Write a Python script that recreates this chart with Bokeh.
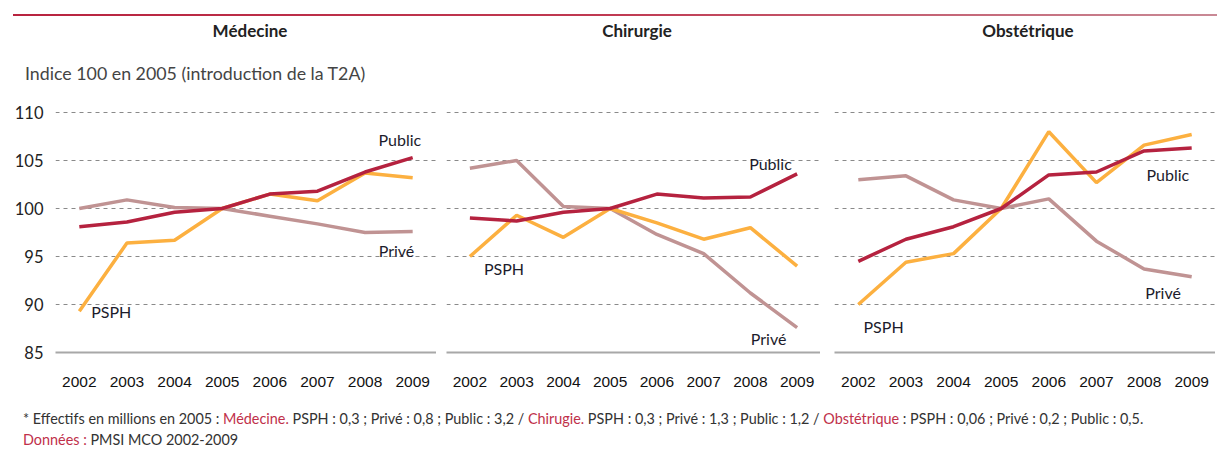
from bokeh.plotting import figure
from bokeh.models import Div, Range1d, FixedTicker
from bokeh.layouts import column, row
from bokeh.embed import file_html
from bokeh.resources import INLINE
from bokeh.core.properties import value

years = [2002, 2003, 2004, 2005, 2006, 2007, 2008, 2009]
tick_years = ["2002", "2003", "2004", "2005", "2006", "2007", "2008", "2009"]
y_ticks = [85, 90, 95, 100, 105, 110]

panels = ["Médecine", "Chirurgie", "Obstétrique"]

med_public = [98.1, 98.6, 99.6, 100.0, 101.5, 101.8, 103.8, 105.3]
med_psph = [89.3, 96.4, 96.7, 100.0, 101.5, 100.8, 103.7, 103.2]
med_prive = [100.0, 100.9, 100.1, 100.0, 99.2, 98.4, 97.5, 97.6]

chi_public = [99.0, 98.7, 99.6, 100.0, 101.5, 101.1, 101.2, 103.6]
chi_psph = [95.0, 99.3, 97.0, 100.0, 98.5, 96.8, 98.0, 94.0]
chi_prive = [104.2, 105.0, 100.2, 100.0, 97.3, 95.3, 91.2, 87.6]

obs_public = [94.5, 96.8, 98.1, 100.0, 103.5, 103.8, 106.0, 106.3]
obs_psph = [90.0, 94.4, 95.3, 100.0, 108.0, 102.7, 106.6, 107.7]
obs_prive = [103.0, 103.4, 100.9, 100.0, 101.0, 96.6, 93.7, 92.9]

series_names = ["Privé", "PSPH", "Public"]
colors = {"Public": "#b5223f", "PSPH": "#fcb040", "Privé": "#c09393"}

# label anchor points (data coords) per panel: (name, x, y)
labels = [
    [("Public", 2008.73, 107.2), ("Privé", 2008.66, 95.6), ("PSPH", 2002.67, 89.3)],
    [("Public", 2008.43, 104.7), ("PSPH", 2002.73, 93.8), ("Privé", 2008.39, 86.5)],
    [("Public", 2008.5, 103.5), ("Privé", 2008.4, 91.25), ("PSPH", 2002.53, 87.7)],
]

data = [
    {"Public": med_public, "PSPH": med_psph, "Privé": med_prive},
    {"Public": chi_public, "PSPH": chi_psph, "Privé": chi_prive},
    {"Public": obs_public, "PSPH": obs_psph, "Privé": obs_prive},
]

TXT = "Lato"
AX = "Liberation Sans"

widths = [436, 384, 395]
left_borders = [55, 10, 14]

figs = []
for i in range(3):
    p = figure(width=widths[i], height=303, output_backend="svg", toolbar_location=None,
               x_range=Range1d(2001.5, 2009.5), y_range=Range1d(85, 110.52),
               min_border_left=left_borders[i], min_border_right=0,
               min_border_top=8, min_border_bottom=50)
    p.outline_line_color = None
    p.background_fill_color = None
    p.border_fill_color = None
    for name in series_names:
        p.line(years, data[i][name], line_color=colors[name], line_width=3.5)
    for (name, lx, ly) in labels[i]:
        p.text(x=[lx], y=[ly], text=[name], text_align="center", text_baseline="middle",
               text_font=value(TXT), text_font_size="16px", text_color="#1c1c2c")
    p.xgrid.visible = False
    p.ygrid.ticker = FixedTicker(ticks=[90, 95, 100, 105, 110])
    p.ygrid.grid_line_color = "#8a8a8a"
    p.ygrid.grid_line_dash = "4 4"
    p.ygrid.grid_line_width = 1
    p.xaxis.ticker = FixedTicker(ticks=years)
    p.xaxis.major_label_overrides = {y: s for y, s in zip(years, tick_years)}
    p.xaxis.axis_line_color = "#a8a8a8"
    p.xaxis.axis_line_width = 2
    p.xaxis.major_tick_line_color = None
    p.xaxis.minor_tick_line_color = None
    p.xaxis.major_label_standoff = 18
    p.xaxis.major_label_text_font = AX
    p.xaxis.major_label_text_font_size = "15.5px"
    p.xaxis.major_label_text_color = "#111111"
    if i == 0:
        p.yaxis.ticker = FixedTicker(ticks=y_ticks)
        p.yaxis.axis_line_color = None
        p.yaxis.major_tick_line_color = None
        p.yaxis.minor_tick_line_color = None
        p.yaxis.major_label_standoff = 6
        p.yaxis.major_label_text_font = TXT
        p.yaxis.major_label_text_font_size = "16.5px"
        p.yaxis.major_label_text_color = "#222222"
    else:
        p.yaxis.visible = False
    figs.append(p)

title_x = [245, 632, 1023]
spans = "".join(
    f'<span style="position:absolute;left:{x}px;top:26px;transform:translate(-50%,-50%);'
    f'white-space:nowrap;font-family:{TXT};font-weight:bold;font-size:17px;color:#222;">{t}</span>'
    for x, t in zip(title_x, panels)
)
top_html = (
    '<div style="position:relative;width:1217px;height:89px;overflow:hidden;">'
    '<div style="position:absolute;left:8px;top:9px;width:1209px;height:2px;'
    'background:linear-gradient(to right,#b8233f,#c03a52 50%,#c98a96);"></div>'
    + spans +
    f'<span style="position:absolute;left:20px;top:69px;transform:translateY(-50%);'
    f'white-space:nowrap;font-family:{TXT};font-size:17.8px;color:#444;">'
    'Indice 100 en 2005 (introduction de la T2A)</span>'
    '</div>'
)
top_div = Div(text=top_html, width=1217, height=89)

red = "#c0304a"
line_style = (f'position:absolute;left:18px;white-space:nowrap;font-family:{TXT};font-size:14.4px;'
              'color:#333;transform-origin:left center;')
foot_html = (
    '<div style="position:relative;width:1217px;height:44px;overflow:hidden;">'
    f'<span style="{line_style}top:12px;transform:translateY(-50%);">'
    f'* Effectifs en millions en 2005 : <span style="color:{red}">Médecine.</span> PSPH : 0,3 ; Privé : 0,8 ; Public : 3,2 / '
    f'<span style="color:{red}">Chirugie.</span> PSPH : 0,3 ; Privé : 1,3 ; Public : 1,2 / '
    f'<span style="color:{red}">Obstétrique</span> : PSPH : 0,06 ; Privé : 0,2 ; Public : 0,5.</span>'
    f'<span style="{line_style}top:33px;transform:translateY(-50%);">'
    f'<span style="color:{red}">Données :</span> PMSI MCO 2002-2009</span>'
    '</div>'
)
foot_div = Div(text=foot_html, width=1217, height=44)

layout = column(top_div, row(*figs), foot_div)

open("out.html", "w").write(file_html(layout, INLINE))
